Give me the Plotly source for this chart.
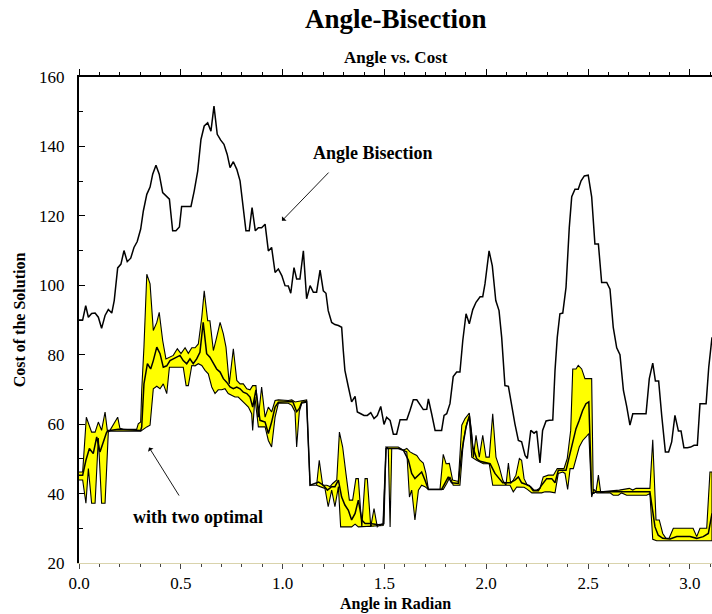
import plotly.graph_objects as go

# Angle Bisection cost over the angle (radians)
bis_angle = [0.0, 0.018, 0.033, 0.046, 0.062, 0.079, 0.095, 0.111, 0.128, 0.144,
             0.161, 0.173, 0.190, 0.206, 0.221, 0.237, 0.254, 0.270, 0.286, 0.303,
             0.316, 0.333, 0.349, 0.362, 0.378, 0.394, 0.411, 0.427, 0.444, 0.460,
             0.476, 0.493, 0.504, 0.521, 0.537, 0.550, 0.566, 0.583, 0.599, 0.615,
             0.632, 0.648, 0.663, 0.679, 0.696, 0.712, 0.728, 0.742, 0.758, 0.775,
             0.791, 0.804, 0.820, 0.836, 0.850, 0.866, 0.881, 0.897, 0.914, 0.930,
             0.946, 0.963, 0.979, 0.996, 1.012, 1.028, 1.040, 1.056, 1.069, 1.085,
             1.102, 1.118, 1.135, 1.151, 1.167, 1.184, 1.200, 1.213, 1.224, 1.241,
             1.257, 1.274, 1.290, 1.298, 1.306, 1.323, 1.339, 1.356, 1.367, 1.384,
             1.400, 1.416, 1.433, 1.449, 1.465, 1.482, 1.498, 1.511, 1.528, 1.544,
             1.560, 1.577, 1.593, 1.610, 1.626, 1.642, 1.659, 1.675, 1.691, 1.708,
             1.716, 1.732, 1.749, 1.765, 1.781, 1.793, 1.806, 1.822, 1.838, 1.855,
             1.871, 1.885, 1.901, 1.917, 1.934, 1.950, 1.970, 1.983, 1.994, 2.014,
             2.030, 2.047, 2.063, 2.076, 2.092, 2.109, 2.125, 2.141, 2.158, 2.174,
             2.191, 2.202, 2.219, 2.235, 2.248, 2.264, 2.277, 2.294, 2.310, 2.327,
             2.338, 2.349, 2.362, 2.376, 2.392, 2.408, 2.420, 2.436, 2.452, 2.466,
             2.482, 2.501, 2.518, 2.534, 2.551, 2.567, 2.592, 2.608, 2.624, 2.641,
             2.657, 2.674, 2.690, 2.706, 2.720, 2.785, 2.801, 2.818, 2.831, 2.847,
             2.862, 2.880, 2.896, 2.911, 2.927, 2.944, 2.957, 2.971, 2.988, 3.004,
             3.021, 3.037, 3.050, 3.080, 3.093, 3.109]
bis_cost = [90.0, 90.0, 94.1, 90.8, 91.9, 92.0, 90.8, 87.6, 91.3, 93.0,
            92.0, 95.6, 105.0, 106.1, 110.0, 106.8, 107.8, 110.9, 112.6, 116.2,
            121.4, 126.2, 128.3, 132.0, 134.6, 132.0, 126.7, 125.7, 124.8, 115.7,
            115.7, 116.8, 122.7, 122.7, 122.7, 122.7, 127.2, 132.9, 142.0, 145.9,
            146.8, 144.4, 151.6, 143.5, 141.8, 140.6, 137.7, 133.9, 135.6, 133.4,
            130.1, 122.9, 115.7, 115.7, 122.4, 115.7, 116.6, 116.6, 117.6, 109.9,
            110.9, 103.7, 104.7, 102.8, 99.9, 99.8, 97.7, 105.1, 101.8, 101.8,
            109.9, 96.1, 99.9, 98.0, 98.0, 104.4, 98.4, 97.7, 92.7, 89.3,
            88.7, 88.4, 87.9, 81.2, 75.5, 70.7, 66.4, 68.0, 63.5, 63.0,
            62.5, 62.5, 63.3, 61.6, 62.5, 65.1, 59.9, 62.0, 61.1, 57.1,
            57.1, 61.3, 61.3, 61.3, 64.0, 67.0, 67.0, 65.4, 64.2, 64.3,
            67.3, 63.0, 58.2, 58.2, 58.2, 62.5, 63.0, 65.9, 73.7, 75.0,
            75.0, 84.1, 91.8, 88.9, 93.0, 95.1, 96.7, 96.7, 100.4, 109.9,
            105.6, 95.6, 92.7, 85.0, 71.1, 70.9, 64.9, 60.1, 55.3, 54.9,
            51.0, 50.1, 58.2, 57.4, 58.0, 48.8, 58.2, 60.9, 61.1, 61.2,
            75.5, 85.0, 91.8, 92.0, 99.4, 116.6, 125.5, 127.7, 127.7, 130.1,
            131.5, 131.7, 125.5, 111.9, 111.9, 100.8, 100.8, 98.9, 87.9, 82.0,
            80.0, 69.7, 65.1, 59.7, 63.0, 63.0, 73.1, 77.6, 72.4, 72.4,
            62.5, 52.0, 52.0, 54.9, 62.5, 58.0, 58.0, 53.2, 53.2, 53.4,
            53.9, 53.9, 65.9, 65.9, 76.4, 85.0]

# "with two optimal": upper and lower envelope, and the line between them
two_upper = [(0.0, 46.2), (0.018, 46.2), (0.036, 62.0), (0.062, 57.7), (0.079, 57.7), (0.095, 60.6),
             (0.111, 58.2), (0.128, 63.5), (0.139, 58.2), (0.152, 58.2), (0.190, 62.0), (0.201, 58.8),
             (0.218, 58.5), (0.283, 58.5), (0.291, 60.1), (0.303, 60.6), (0.308, 69.7), (0.319, 82.2),
             (0.333, 103.2), (0.349, 100.4), (0.365, 87.0), (0.382, 89.3), (0.394, 92.2), (0.411, 84.1),
             (0.427, 78.8), (0.444, 79.3), (0.463, 79.8), (0.483, 81.7), (0.501, 80.3), (0.521, 82.0),
             (0.537, 80.4), (0.554, 82.0), (0.570, 82.0), (0.586, 83.1), (0.603, 90.8), (0.615, 98.4),
             (0.632, 89.8), (0.643, 89.8), (0.660, 81.2), (0.676, 85.0), (0.693, 89.3), (0.709, 86.0),
             (0.722, 82.2), (0.738, 71.6), (0.758, 81.7), (0.775, 72.6), (0.791, 71.6), (0.807, 71.6),
             (0.824, 70.2), (0.840, 69.9), (0.853, 71.1), (0.869, 71.1), (0.881, 62.0), (0.897, 70.7),
             (0.914, 62.0), (0.930, 64.9), (0.946, 63.5), (0.963, 66.8), (0.979, 67.0), (1.028, 66.8),
             (1.045, 67.0), (1.061, 66.4), (1.094, 66.8), (1.118, 67.0), (1.135, 42.4), (1.167, 42.4),
             (1.180, 49.6), (1.197, 42.4), (1.217, 42.4), (1.233, 42.0), (1.246, 42.9), (1.266, 43.9),
             (1.279, 57.7), (1.295, 53.4), (1.311, 45.8), (1.328, 38.1), (1.344, 38.1), (1.360, 44.3),
             (1.372, 44.3), (1.389, 30.4), (1.405, 44.3), (1.416, 44.3), (1.433, 30.4), (1.449, 35.7),
             (1.465, 30.4), (1.487, 31.2), (1.498, 31.3), (1.508, 53.4), (1.568, 53.4), (1.593, 52.5),
             (1.610, 53.0), (1.626, 52.0), (1.642, 51.5), (1.659, 51.0), (1.675, 49.6), (1.691, 48.8),
             (1.704, 45.8), (1.716, 41.2), (1.773, 41.2), (1.789, 51.3), (1.803, 48.6), (1.819, 48.7),
             (1.835, 43.9), (1.863, 43.5), (1.880, 59.7), (1.896, 61.6), (1.917, 63.2), (1.929, 57.3),
             (1.937, 50.5), (1.950, 56.8), (1.966, 50.5), (1.983, 56.8), (1.999, 50.5), (2.015, 50.5),
             (2.032, 63.0), (2.048, 50.5), (2.064, 47.7), (2.081, 43.9), (2.097, 42.4), (2.109, 48.8),
             (2.120, 42.9), (2.133, 43.9), (2.146, 45.3), (2.163, 50.1), (2.174, 49.6), (2.186, 44.3),
             (2.202, 42.4), (2.219, 42.0), (2.235, 41.0), (2.248, 41.0), (2.264, 41.5), (2.280, 44.8),
             (2.305, 45.3), (2.330, 45.3), (2.349, 47.2), (2.382, 47.2), (2.398, 50.1), (2.415, 58.2),
             (2.425, 75.9), (2.441, 75.9), (2.452, 76.9), (2.469, 75.9), (2.485, 73.1), (2.518, 73.1),
             (2.526, 40.0), (2.539, 40.5), (2.551, 45.3), (2.562, 40.5), (2.654, 41.0), (2.682, 41.2),
             (2.703, 41.5), (2.720, 41.0), (2.736, 41.5), (2.804, 41.5), (2.818, 55.5), (2.834, 32.4),
             (2.850, 32.4), (2.867, 28.5), (2.883, 27.1), (2.899, 27.2), (2.919, 30.0), (3.016, 30.0),
             (3.034, 27.6), (3.050, 30.0), (3.083, 30.0), (3.099, 46.2), (3.109, 46.2)]

two_lower = [(0.0, 43.9), (0.018, 43.9), (0.034, 37.2), (0.046, 47.2), (0.062, 37.2), (0.079, 37.2),
             (0.095, 56.0), (0.111, 37.2), (0.128, 37.2), (0.144, 57.7), (0.152, 58.0), (0.303, 58.0),
             (0.333, 59.2), (0.349, 59.7), (0.365, 70.2), (0.382, 70.9), (0.398, 70.2), (0.414, 71.6),
             (0.431, 68.8), (0.444, 76.4), (0.512, 76.4), (0.526, 71.1), (0.537, 71.1), (0.554, 76.9),
             (0.570, 76.8), (0.586, 77.4), (0.603, 76.9), (0.619, 75.5), (0.635, 74.5), (0.652, 70.7),
             (0.668, 68.8), (0.684, 69.9), (0.701, 69.9), (0.717, 70.2), (0.733, 68.8), (0.750, 68.3),
             (0.766, 67.8), (0.782, 67.8), (0.799, 66.8), (0.815, 65.9), (0.832, 64.9), (0.848, 63.0),
             (0.853, 58.2), (0.864, 67.8), (0.881, 59.2), (0.914, 59.2), (0.930, 55.3), (0.946, 53.4),
             (0.963, 62.0), (0.979, 66.0), (1.028, 66.0), (1.045, 65.4), (1.061, 63.6), (1.069, 53.4),
             (1.082, 63.6), (1.094, 66.0), (1.118, 66.3), (1.135, 42.4), (1.167, 42.4), (1.184, 42.0),
             (1.208, 41.5), (1.224, 36.2), (1.241, 41.0), (1.257, 36.2), (1.274, 42.0), (1.285, 30.4),
             (1.339, 30.4), (1.356, 31.2), (1.372, 30.4), (1.494, 30.8), (1.508, 53.4), (1.519, 53.0),
             (1.528, 30.4), (1.536, 53.0), (1.577, 53.0), (1.593, 52.5), (1.610, 52.0), (1.623, 39.0),
             (1.634, 41.0), (1.650, 32.4), (1.667, 41.0), (1.683, 42.4), (1.699, 42.0), (1.716, 41.2),
             (1.789, 41.2), (1.806, 42.9), (1.822, 44.8), (1.838, 42.4), (1.871, 42.4), (1.888, 55.3),
             (1.904, 60.1), (1.917, 62.0), (1.929, 50.5), (1.953, 49.6), (1.986, 48.6), (2.015, 48.6),
             (2.032, 42.4), (2.117, 42.4), (2.133, 40.5), (2.150, 41.9), (2.186, 41.8), (2.202, 41.2),
             (2.224, 40.2), (2.272, 40.2), (2.289, 40.5), (2.313, 40.5), (2.338, 40.2), (2.354, 45.8),
             (2.376, 46.2), (2.387, 45.8), (2.400, 41.2), (2.412, 47.2), (2.428, 47.2), (2.441, 49.6),
             (2.457, 53.4), (2.474, 55.3), (2.490, 56.3), (2.504, 57.3), (2.518, 39.0), (2.529, 41.2),
             (2.543, 40.2), (2.608, 40.2), (2.624, 39.5), (2.649, 39.5), (2.665, 40.2), (2.690, 39.5),
             (2.788, 39.5), (2.804, 40.0), (2.818, 26.8), (2.837, 26.4), (3.109, 26.4)]

two_mid = [(0.0, 45.3), (0.018, 45.3), (0.034, 49.6), (0.051, 53.0), (0.070, 51.5), (0.087, 56.3),
           (0.103, 52.0), (0.120, 55.3), (0.136, 57.7), (0.152, 58.2), (0.193, 58.5), (0.303, 58.2),
           (0.308, 59.2), (0.319, 71.6), (0.336, 77.4), (0.352, 75.9), (0.365, 78.3), (0.382, 82.2),
           (0.398, 80.3), (0.414, 76.4), (0.431, 76.8), (0.447, 78.3), (0.463, 78.8), (0.480, 79.3),
           (0.496, 79.8), (0.512, 78.3), (0.529, 77.4), (0.545, 78.8), (0.561, 77.4), (0.578, 78.8),
           (0.594, 80.7), (0.610, 89.3), (0.627, 80.3), (0.643, 79.3), (0.660, 77.4), (0.676, 75.9),
           (0.693, 75.0), (0.709, 73.1), (0.725, 72.1), (0.742, 70.7), (0.758, 70.2), (0.775, 70.7),
           (0.791, 70.2), (0.807, 69.2), (0.824, 68.8), (0.840, 67.8), (0.853, 64.9), (0.869, 69.9),
           (0.889, 61.1), (0.914, 60.6), (0.930, 57.3), (0.946, 60.6), (0.963, 64.9), (0.979, 66.3),
           (1.050, 66.5), (1.061, 64.5), (1.069, 63.6), (1.082, 64.5), (1.094, 66.3), (1.118, 66.5),
           (1.135, 42.4), (1.177, 43.3), (1.200, 42.4), (1.220, 41.0), (1.241, 42.0), (1.257, 42.0),
           (1.274, 43.9), (1.290, 39.0), (1.306, 36.7), (1.323, 35.2), (1.339, 32.4), (1.356, 34.3),
           (1.372, 38.1), (1.389, 32.4), (1.405, 31.4), (1.430, 31.4), (1.470, 31.0), (1.494, 31.2),
           (1.508, 53.0), (1.568, 53.0), (1.593, 52.5), (1.618, 49.6), (1.634, 45.8), (1.650, 44.3),
           (1.667, 45.3), (1.683, 46.2), (1.699, 43.9), (1.716, 41.2), (1.781, 41.2), (1.797, 43.1),
           (1.814, 44.8), (1.830, 43.1), (1.863, 42.9), (1.880, 52.0), (1.901, 59.2), (1.917, 62.4),
           (1.934, 53.4), (1.953, 50.1), (1.970, 49.3), (2.019, 48.6), (2.043, 45.8), (2.064, 44.3),
           (2.081, 43.1), (2.117, 43.1), (2.141, 43.9), (2.158, 44.8), (2.174, 43.1), (2.212, 42.3),
           (2.231, 40.8), (2.256, 40.8), (2.272, 42.4), (2.297, 44.3), (2.322, 44.3), (2.338, 43.1),
           (2.354, 46.7), (2.392, 46.7), (2.408, 50.5), (2.425, 55.3), (2.441, 58.7), (2.457, 61.1),
           (2.474, 64.0), (2.490, 65.9), (2.504, 66.4), (2.518, 40.0), (2.543, 40.5), (2.804, 40.5),
           (2.829, 30.4), (2.845, 28.0), (2.867, 27.1), (2.903, 26.9), (2.936, 27.6), (3.001, 27.6),
           (3.034, 27.1), (3.066, 27.6), (3.091, 28.5), (3.109, 34.3)]

X_RANGE = [0.0, 3.109]
Y_RANGE = [20, 160]
SERIF = "Liberation Serif, Times New Roman, serif"

band_x = [p[0] for p in two_upper] + [p[0] for p in reversed(two_lower)]
band_y = [p[1] for p in two_upper] + [p[1] for p in reversed(two_lower)]

fig = go.Figure()

# yellow envelope with black outline
fig.add_trace(go.Scatter(
    x=band_x, y=band_y, mode="lines", fill="toself",
    fillcolor="#ffff00", line=dict(color="black", width=1.1),
    hoverinfo="skip", showlegend=False,
))
# centre line of the envelope
fig.add_trace(go.Scatter(
    x=[p[0] for p in two_mid], y=[p[1] for p in two_mid], mode="lines",
    line=dict(color="black", width=1.5), showlegend=False,
))
# Angle Bisection curve
fig.add_trace(go.Scatter(
    x=bis_angle, y=bis_cost, mode="lines",
    line=dict(color="black", width=1.5), showlegend=False,
))
# invisible trace so the top axis is drawn
fig.add_trace(go.Scatter(x=X_RANGE, y=Y_RANGE, xaxis="x2", mode="markers",
                         marker=dict(opacity=0), hoverinfo="skip", showlegend=False))

tick_font = dict(family=SERIF, size=17, color="black")
title_font = dict(family=SERIF, size=16, color="black")
label_font = dict(family=SERIF, size=18, color="black")

fig.update_layout(
    width=712, height=614,
    margin=dict(l=79, r=0, t=77, b=51),
    paper_bgcolor="white", plot_bgcolor="white",
    font=dict(family=SERIF, color="black"),
    xaxis=dict(
        range=X_RANGE, showgrid=False, zeroline=False,
        showline=True, linecolor="#d9d3ac", linewidth=1,
        ticks="outside", ticklen=5, tickcolor="#444", tickwidth=1,
        tick0=0, dtick=0.5, tickformat=".1f", tickfont=tick_font,
        minor=dict(dtick=0.1, ticks="outside", ticklen=3, tickcolor="#444"),
        title=dict(text="<b>Angle in Radian</b>", font=title_font, standoff=5),
    ),
    xaxis2=dict(
        range=X_RANGE, overlaying="x", side="top", showgrid=False, zeroline=False,
        showline=True, linecolor="black", linewidth=2,
        ticks="outside", ticklen=6, tickcolor="black", tickwidth=1,
        tick0=0, dtick=0.5, showticklabels=False,
        minor=dict(dtick=0.1, ticks="outside", ticklen=3, tickcolor="black"),
    ),
    yaxis=dict(
        range=Y_RANGE, showgrid=False, zeroline=False,
        showline=True, linecolor="black", linewidth=2,
        ticks="inside", ticklen=6, tickcolor="black", tickwidth=1,
        tick0=20, dtick=20, tickfont=tick_font, ticklabelstandoff=9,
        minor=dict(dtick=10, ticks="inside", ticklen=4, tickcolor="black"),
        title=dict(text="<b>Cost of the Solution</b>", font=title_font, standoff=9),
    ),
    annotations=[
        dict(text="<b>Angle-Bisection</b>", xref="paper", yref="paper",
             x=0.5, y=(563 - 19) / 486, xanchor="center", yanchor="middle",
             showarrow=False, font=dict(family=SERIF, size=27, color="black")),
        dict(text="<b>Angle vs. Cost</b>", xref="paper", yref="paper",
             x=0.5, y=(563 - 58) / 486, xanchor="center", yanchor="middle",
             showarrow=False, font=dict(family=SERIF, size=17, color="black")),
        dict(text="<b>Angle Bisection</b>", x=1.444, y=138.1, showarrow=False,
             xanchor="center", yanchor="middle", font=label_font),
        dict(text="", x=0.997, y=118.6, ax=1.233, ay=132.9, axref="x", ayref="y",
             showarrow=True, arrowhead=1, arrowsize=1.2, arrowwidth=0.9, arrowcolor="black"),
        dict(text="<b>with two optimal</b>", x=0.584, y=33.2, showarrow=False,
             xanchor="center", yanchor="middle", font=label_font),
        dict(text="", x=0.344, y=53.3, ax=0.496, ay=39.0, axref="x", ayref="y",
             showarrow=True, arrowhead=1, arrowsize=1.2, arrowwidth=0.9, arrowcolor="black"),
    ],
)

fig.write_html("out.html")
